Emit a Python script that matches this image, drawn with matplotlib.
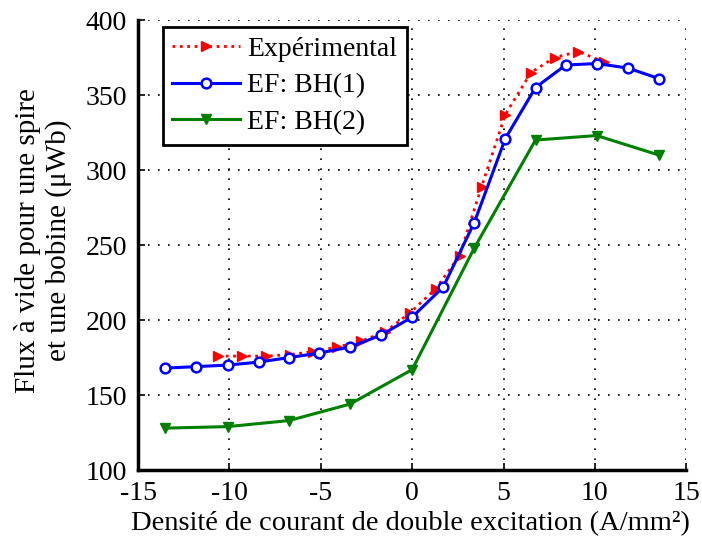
import numpy as np
import matplotlib
matplotlib.use("Agg")
import matplotlib.pyplot as plt

plt.rcParams['font.family'] = ['Liberation Serif', 'DejaVu Serif']
plt.rcParams['axes.unicode_minus'] = False

# ---- données ----
x_exp = [-10.6, -9.3, -8.0, -6.7, -5.4, -4.1, -2.8, -1.5, -0.1,
         1.3, 2.6, 3.8, 5.1, 6.5, 7.8, 9.1, 10.5]
flux_exp = [176, 176, 176, 177, 179, 182, 186, 192, 205,
            221, 243, 289, 337, 365, 375, 379, 372]

x_bh1 = [-13.5, -11.8, -10.1, -8.4, -6.75, -5.1, -3.4, -1.7, 0,
         1.7, 3.4, 5.1, 6.75, 8.4, 10.1, 11.8, 13.5]
flux_bh1 = [168, 169, 170, 172, 175, 178, 182, 190, 202,
            222, 265, 321, 355, 370, 371, 368, 361]

x_bh2 = [-13.5, -10.1, -6.75, -3.4, 0, 3.4, 6.75, 10.1, 13.5]
flux_bh2 = [128, 129, 133, 144, 167, 248, 320, 323, 310]

xticks = [-15, -10, -5, 0, 5, 10, 15]
yticks = [100, 150, 200, 250, 300, 350, 400]

fig = plt.figure(figsize=(7.02, 5.41), dpi=100)
ax = fig.add_axes([0.1966, 0.131, 0.781, 0.832])

ax.plot(x_exp, flux_exp, color='red', linestyle=':', linewidth=2,
        marker='>', markersize=7, markerfacecolor='red', label='Expérimental')
ax.plot(x_bh1, flux_bh1, color='blue', linestyle='-', linewidth=2.2,
        marker='o', markersize=7, markerfacecolor='white', markeredgewidth=1.8,
        label='EF: BH(1)')
ax.plot(x_bh2, flux_bh2, color='green', linestyle='-', linewidth=2.2,
        marker='v', markersize=7, markerfacecolor='green', label='EF: BH(2)')

ax.set_xlim(-15, 15)
ax.set_ylim(100, 400)
ax.set_xticks(xticks)
ax.set_yticks(yticks)
ax.grid(True, color='black', linestyle=(0, (1, 5)), linewidth=1.2)

for side in ['top', 'right']:
    ax.spines[side].set_visible(False)
for side in ['left', 'bottom']:
    ax.spines[side].set_linewidth(2.5)

ax.tick_params(direction='in', length=5, width=1.2, labelsize=20)
ax.tick_params(axis='y', pad=8)
ax.tick_params(axis='x', pad=8)

ax.set_xlabel('Densité de courant de double excitation (A/mm²)', fontsize=20.5)
ax.xaxis.set_label_coords(0.496, -0.091)
ax.set_ylabel('Flux à vide pour une spire\net une bobine (μWb)', fontsize=21,
              linespacing=1.2)
ax.yaxis.set_label_coords(-0.12, 0.51)

leg = ax.legend(loc='upper left', bbox_to_anchor=(0.045, 0.985), fontsize=20,
                fancybox=False, edgecolor='black', framealpha=1,
                handlelength=2.45, borderpad=0.35, labelspacing=0.4,
                handletextpad=0.25, borderaxespad=0)
leg.get_frame().set_linewidth(2)

fig.savefig('out.png', dpi=100)
